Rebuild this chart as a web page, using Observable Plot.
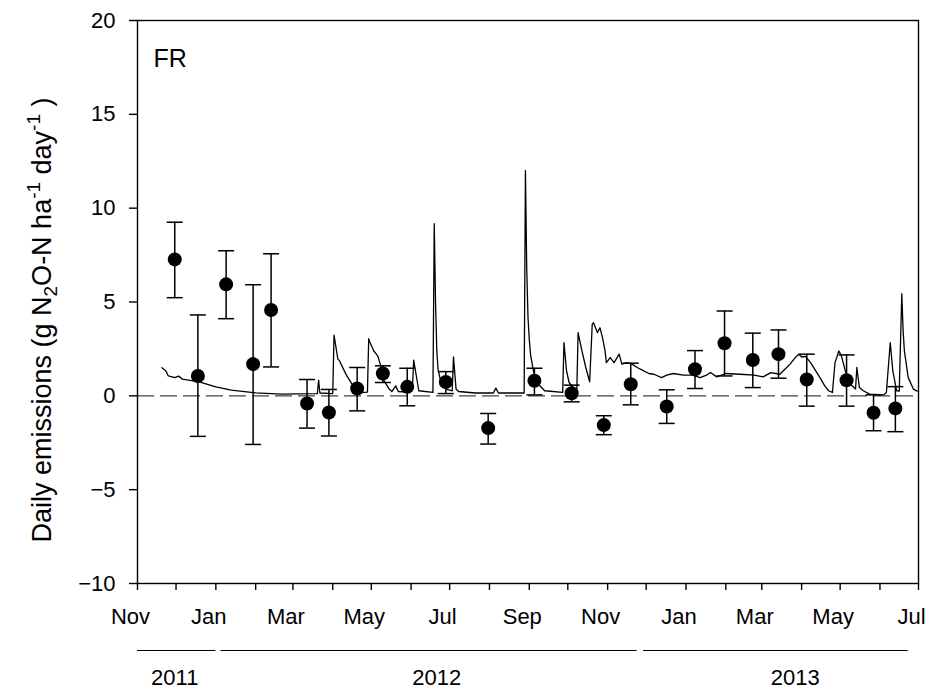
<!DOCTYPE html>
<html>
<head>
<meta charset="utf-8">
<script src="https://cdn.jsdelivr.net/npm/d3@7"></script>
<script src="https://cdn.jsdelivr.net/npm/@observablehq/plot@0.6"></script>
<style>
  html, body { margin: 0; padding: 0; background: #fff; }
  #chart { width: 929px; height: 690px; }
</style>
</head>
<body>
<div id="chart"></div>
<script>
// ---- Measured means with error bars ----
const pointDates = ["2011-11-30","2011-12-18","2012-01-09","2012-01-30","2012-02-13","2012-03-12","2012-03-29","2012-04-20","2012-05-10","2012-05-29","2012-06-28","2012-07-31","2012-09-05","2012-10-04","2012-10-29","2012-11-19","2012-12-17","2013-01-08","2013-01-31","2013-02-22","2013-03-14","2013-04-05","2013-05-06","2013-05-27","2013-06-13"];
const pointMeans = [7.27, 1.06, 5.94, 1.69, 4.57, -0.41, -0.89, 0.39, 1.19, 0.48, 0.74, -1.72, 0.80, 0.14, -1.56, 0.62, -0.57, 1.42, 2.80, 1.91, 2.22, 0.87, 0.83, -0.90, -0.67];
const pointLow   = [5.23, -2.16, 4.11, -2.59, 1.54, -1.72, -2.14, -0.80, 0.71, -0.53, 0.12, -2.57, 0.05, -0.32, -2.07, -0.48, -1.47, 0.39, 1.06, 0.44, 0.94, -0.55, -0.55, -1.86, -1.91];
const pointHigh  = [9.25, 4.31, 7.73, 5.92, 7.57, 0.87, 0.34, 1.51, 1.60, 1.47, 1.29, -0.94, 1.47, 0.57, -1.06, 1.74, 0.32, 2.41, 4.52, 3.34, 3.51, 2.22, 2.18, 0.05, 0.49];

// ---- Simulated daily emissions (line) ----
const lineDates = ["2011-11-20","2011-11-23","2011-11-25","2011-11-30","2011-12-03","2011-12-06","2011-12-19","2012-01-01","2012-01-13","2012-02-01","2012-02-21","2012-03-05","2012-03-20","2012-03-21","2012-03-22","2012-04-01","2012-04-02","2012-04-05","2012-04-06","2012-04-10","2012-04-12","2012-04-16","2012-04-19","2012-04-25","2012-04-28","2012-04-29","2012-04-30","2012-05-03","2012-05-06","2012-05-08","2012-05-11","2012-05-15","2012-05-17","2012-05-20","2012-05-22","2012-05-28","2012-05-30","2012-06-02","2012-06-03","2012-06-07","2012-06-18","2012-06-19","2012-06-20","2012-06-21","2012-06-22","2012-06-24","2012-06-26","2012-06-28","2012-07-03","2012-07-04","2012-07-06","2012-07-08","2012-07-21","2012-08-04","2012-08-06","2012-08-08","2012-08-28","2012-08-29","2012-08-30","2012-08-31","2012-09-01","2012-09-02","2012-09-04","2012-09-06","2012-09-09","2012-09-13","2012-09-27","2012-09-28","2012-09-30","2012-10-02","2012-10-07","2012-10-08","2012-10-09","2012-10-12","2012-10-15","2012-10-18","2012-10-20","2012-10-21","2012-10-24","2012-10-26","2012-10-28","2012-10-30","2012-10-31","2012-11-03","2012-11-06","2012-11-10","2012-11-12","2012-11-16","2012-11-20","2012-11-24","2012-11-28","2012-12-03","2012-12-07","2012-12-13","2012-12-17","2012-12-22","2012-12-30","2013-01-06","2013-01-12","2013-01-17","2013-01-20","2013-01-25","2013-02-01","2013-02-12","2013-02-23","2013-03-02","2013-03-08","2013-03-15","2013-03-19","2013-03-23","2013-03-27","2013-03-30","2013-04-01","2013-04-04","2013-04-08","2013-04-12","2013-04-16","2013-04-19","2013-04-22","2013-04-25","2013-04-27","2013-04-30","2013-05-02","2013-05-05","2013-05-09","2013-05-13","2013-05-14","2013-05-16","2013-05-19","2013-05-24","2013-06-04","2013-06-06","2013-06-09","2013-06-11","2013-06-14","2013-06-16","2013-06-18","2013-06-19","2013-06-20","2013-06-23","2013-06-27","2013-06-30"];
const lineValues = [1.50,1.33,1.06,0.97,1.05,0.89,0.74,0.48,0.30,0.16,0.09,0.10,0.12,0.83,0.15,0.12,3.24,1.95,1.90,1.33,1.06,0.62,0.44,0.18,0.20,3.05,2.84,2.39,2.13,1.69,0.80,0.36,0.23,0.53,0.23,0.20,0.71,0.35,1.90,0.27,0.18,9.17,5.05,2.39,1.40,0.80,0.50,0.36,0.27,2.07,0.36,0.23,0.15,0.15,0.41,0.15,0.15,12.0,6.83,4.17,3.00,2.20,1.40,0.90,0.55,0.27,0.18,2.84,1.33,0.71,0.27,0.30,3.37,2.39,1.51,0.75,3.81,3.90,3.37,3.63,3.10,2.39,1.77,2.04,1.77,2.22,1.69,1.77,1.69,1.51,1.37,1.19,1.15,0.97,1.10,1.19,1.10,1.10,0.97,1.10,1.24,1.01,1.19,1.15,1.10,1.01,1.24,1.15,1.42,1.69,2.04,2.22,2.07,2.10,1.77,1.33,0.89,0.53,0.27,0.18,1.77,2.39,2.13,1.33,0.62,0.36,1.51,0.44,0.27,0.09,0.05,0.18,2.84,1.33,0.27,0.25,5.44,3.50,2.40,0.97,0.36,0.25];

// ---- Axes / annotations ----
const xDomain = ["2011-11-01", "2013-07-01"];
const yDomain = [-10, 20];
const yTicks = [-10, -5, 0, 5, 10, 15, 20];
const monthTickDates = ["2011-11-01","2011-12-01","2012-01-01","2012-02-01","2012-03-01","2012-04-01","2012-05-01","2012-06-01","2012-07-01","2012-08-01","2012-09-01","2012-10-01","2012-11-01","2012-12-01","2013-01-01","2013-02-01","2013-03-01","2013-04-01","2013-05-01","2013-06-01","2013-07-01"];
const monthLabelDates = ["2011-11-01","2012-01-01","2012-03-01","2012-05-01","2012-07-01","2012-09-01","2012-11-01","2013-01-01","2013-03-01","2013-05-01","2013-07-01"];
const monthLabels = ["Nov","Jan","Mar","May","Jul","Sep","Nov","Jan","Mar","May","Jul"];
const yearLabels = ["2011", "2012", "2013"];
const yearStart = ["2011-11-01", "2012-01-05", "2012-11-29"];
const yearEnd = ["2012-01-01", "2012-11-24", "2013-06-23"];
const yearLabelAt = ["2011-11-30", "2012-06-21", "2013-03-27"];
const panelLabel = "FR";

const parse = d3.utcParse("%Y-%m-%d");
const points = pointDates.map((d, i) => ({date: parse(d), mean: pointMeans[i], lo: pointLow[i], hi: pointHigh[i]}));
const line = lineDates.map((d, i) => ({date: parse(d), value: lineValues[i]}));
const years = yearLabels.map((y, i) => ({label: y, start: parse(yearStart[i]), end: parse(yearEnd[i]), at: parse(yearLabelAt[i])}));
const monthLabelRows = monthLabelDates.map((d, i) => ({date: parse(d), label: monthLabels[i]}));

const capSymbol = {
  draw(context) {
    context.moveTo(-8, 0);
    context.lineTo(8, 0);
  }
};

const FONT = "'Liberation Sans', Arial, sans-serif";

const chart = Plot.plot({
  width: 929,
  height: 690,
  marginLeft: 137,
  marginRight: 11,
  marginTop: 20,
  marginBottom: 107,
  style: {fontFamily: FONT, fontSize: "22px", color: "#000", background: "#fff", overflow: "visible"},
  x: {type: "utc", domain: xDomain.map(parse)},
  y: {domain: yDomain},
  marks: [
    Plot.axisY(yTicks, {tickSize: 8, tickPadding: 14, strokeWidth: 1.4, fontSize: 22, label: null}),
    Plot.axisX(monthTickDates.map(parse), {tickSize: 7, tickFormat: () => "", strokeWidth: 1.4, label: null}),
    Plot.text(monthLabelRows, {x: "date", text: "label", frameAnchor: "bottom", lineAnchor: "top", dy: 25, dx: -7, fontSize: 22, fill: "#000"}),
    Plot.ruleY(years, {x1: "start", x2: "end", y: () => -10, dy: 67, stroke: "#000", strokeWidth: 1.2}),
    Plot.text(years, {x: "at", text: "label", frameAnchor: "bottom", lineAnchor: "middle", dy: 94, fontSize: 22, fill: "#000"}),
    Plot.ruleY([0], {stroke: "#444", strokeWidth: 1.4, strokeDasharray: "17,6"}),
    Plot.line(line, {x: "date", y: "value", stroke: "#000", strokeWidth: 1.3, curve: "linear"}),
    Plot.ruleX(points, {x: "date", y1: "lo", y2: "hi", stroke: "#000", strokeWidth: 1.5}),
    Plot.dot(points, {x: "date", y: "hi", symbol: capSymbol, stroke: "#000", strokeWidth: 1.5, fill: "none"}),
    Plot.dot(points, {x: "date", y: "lo", symbol: capSymbol, stroke: "#000", strokeWidth: 1.5, fill: "none"}),
    Plot.dot(points, {x: "date", y: "mean", r: 7, fill: "#000", stroke: "none"}),
    Plot.text([panelLabel], {frameAnchor: "top-left", dx: 16, dy: 29, lineAnchor: "top", fontSize: 25, fill: "#000"}),
    Plot.frame({stroke: "#000", strokeWidth: 1.4})
  ]
});

const svg = d3.select(chart);
const lab = svg.append("text")
  .attr("transform", "translate(51,320) rotate(-90)")
  .attr("text-anchor", "middle")
  .attr("font-family", FONT)
  .attr("font-size", 27)
  .attr("fill", "#000");
lab.append("tspan").text("Daily emissions (g N");
lab.append("tspan").attr("font-size", 19).attr("dy", 6).text("2");
lab.append("tspan").attr("dy", -6).text("O-N ha");
lab.append("tspan").attr("font-size", 19).attr("dy", -11).text("-1");
lab.append("tspan").attr("dy", 11).text(" day");
lab.append("tspan").attr("font-size", 19).attr("dy", -11).text("-1");
lab.append("tspan").attr("dy", 11).text(" )");

document.getElementById("chart").appendChild(chart);
</script>
</body>
</html>
